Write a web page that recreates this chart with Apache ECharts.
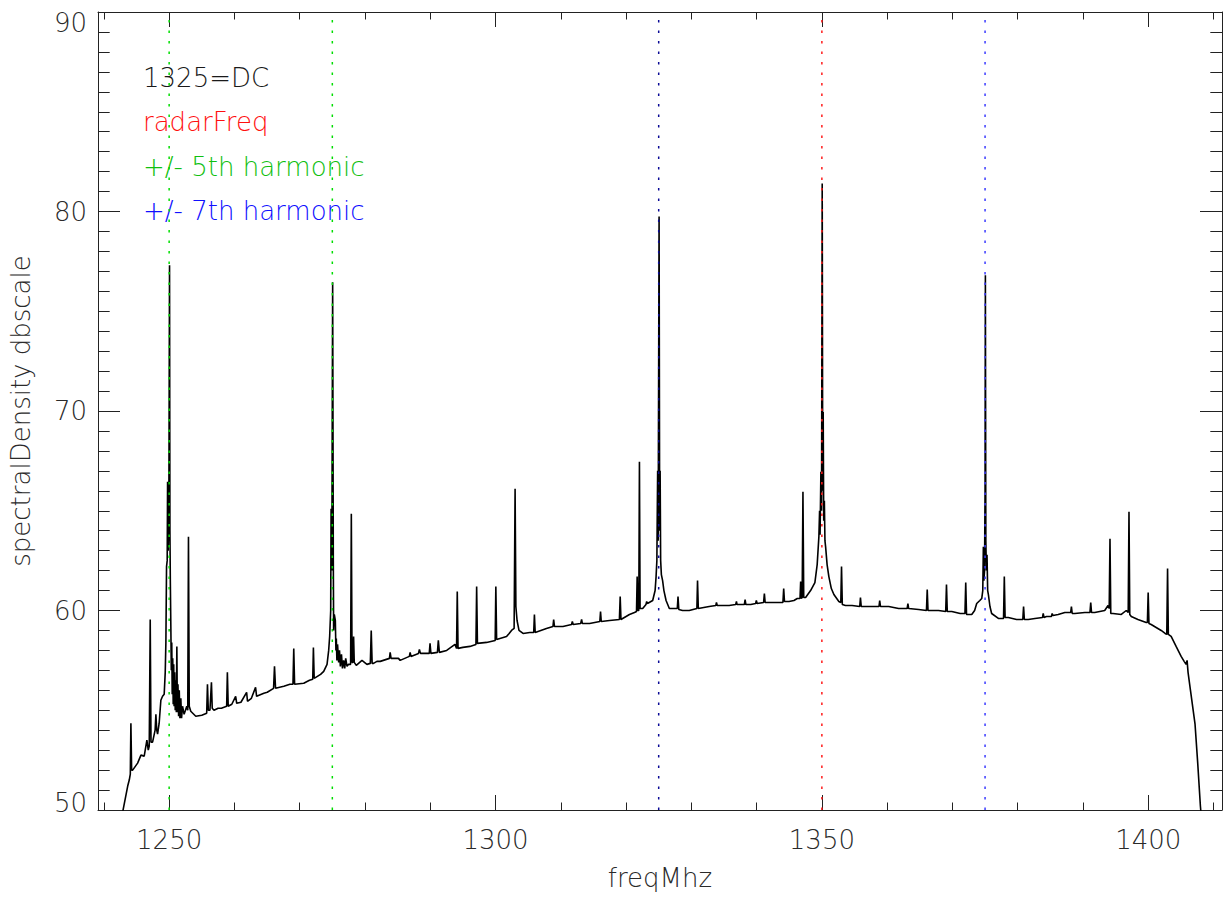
<!DOCTYPE html>
<html><head><meta charset="utf-8">
<script src="https://cdn.jsdelivr.net/npm/echarts@6/dist/echarts.min.js"></script>
<style>html,body{margin:0;padding:0;background:#fff}#c{width:1225px;height:897px}</style>
</head><body><div id="c"></div>
<script>
const xRange = [1239.1, 1411.3];
const yRange = [50, 90];
const xMajorTicks = [1250, 1300, 1350, 1400];
const xMinorTicks = [1240, 1250, 1260, 1270, 1280, 1290, 1300, 1310, 1320, 1330, 1340, 1350, 1360, 1370, 1380, 1390, 1400, 1410];
const yMajorTicks = [50, 60, 70, 80, 90];
const yMinorTicks = [50,51,52,53,54,55,56,57,58,59,60,61,62,63,64,65,66,67,68,69,70,71,72,73,74,75,76,77,78,79,80,81,82,83,84,85,86,87,88,89,90];
const xTitle = 'freqMhz';
const yTitle = 'spectralDensity dbscale';
const markerFreqs = [1250, 1275, 1325, 1350, 1375];
const markerColors = ['#00dd00', '#00dd00', '#0a0a96', '#ff1a1a', '#3a3aff'];
const legendLabels = ['1325=DC', 'radarFreq', '+/- 5th harmonic', '+/- 7th harmonic'];
const legendColors = ['#1a1a1a', '#ff1010', '#10c010', '#1010ff'];

// [freq MHz, spectral density dB]
const spectrum = [
[1242.5,49.6],[1242.88,49.9],[1243.65,51.2],[1243.89,51.5],[1244.05,51.8],[1244.14,54.35],[1244.25,52.0],[1244.41,52.0],
[1245.17,52.35],[1245.68,52.75],[1246.18,52.7],[1246.59,53.5],[1246.8,53.0],[1246.95,53.2],[1247.10,59.55],[1247.22,53.4],
[1247.46,53.4],[1247.85,54.0],[1247.97,54.8],[1248.1,54.0],[1248.23,53.8],[1248.47,54.35],[1248.73,55.5],[1248.99,55.7],
[1249.24,55.8],[1249.40,56.9],[1249.50,58.4],[1249.60,62.2],[1249.70,62.5],[1249.76,66.45],[1249.85,63.0],[1249.95,64.5],
[1250.06,77.3],[1250.12,64.0],[1250.18,61.5],[1250.26,59.2],[1250.33,57.0],[1250.40,58.4],[1250.47,55.8],[1250.55,57.6],
[1250.62,55.3],[1250.70,57.3],[1250.76,55.2],[1250.85,56.9],[1250.93,55.0],[1251.02,56.5],[1251.10,54.9],[1251.18,58.2],
[1251.26,54.9],[1251.35,56.3],[1251.45,54.7],[1251.55,56.0],[1251.65,54.6],[1251.79,55.6],[1251.90,54.6],[1252.05,55.2],
[1252.29,54.8],[1252.50,55.0],[1252.70,55.2],[1252.85,55.0],[1252.96,63.7],[1253.08,55.2],[1253.31,54.95],[1254.08,54.7],
[1255.0,54.75],[1255.75,54.85],[1255.87,56.3],[1256.0,55.0],[1256.25,55.0],[1256.48,56.4],[1256.6,55.1],[1256.87,55.0],
[1257.5,55.1],[1258.0,55.1],[1258.81,55.2],[1258.92,56.9],[1259.05,55.2],[1259.6,55.3],[1260.19,55.7],[1260.35,55.35],
[1261.0,55.4],[1261.87,55.9],[1262.0,55.45],[1262.6,55.6],[1263.24,56.15],[1263.4,55.7],[1264.51,55.85],[1265.03,55.9],
[1266.0,56.1],[1266.14,57.2],[1266.3,56.1],[1267.57,56.2],[1268.5,56.3],[1268.97,56.3],[1269.09,58.1],[1269.22,56.3],
[1270.62,56.35],[1271.5,56.5],[1272.0,56.55],[1272.1,58.15],[1272.22,56.6],[1273.2,56.8],[1273.68,56.95],[1274.19,57.3],
[1274.44,58.0],[1274.59,58.7],[1274.75,60.0],[1274.81,65.1],[1274.92,62.0],[1275.05,76.45],[1275.15,62.5],[1275.2,59.0],
[1275.3,59.8],[1275.46,59.5],[1275.55,58.0],[1275.61,58.6],[1275.7,57.5],[1275.8,58.3],[1275.97,57.4],[1276.1,58.0],
[1276.23,57.2],[1276.4,57.8],[1276.55,57.1],[1276.73,57.5],[1276.9,57.1],[1277.05,57.6],[1277.25,57.2],[1277.49,57.3],
[1277.8,57.3],[1277.91,64.85],[1278.02,57.4],[1278.15,57.4],[1278.26,58.7],[1278.36,57.4],[1278.67,57.25],[1279.54,57.5],
[1280.30,57.3],[1280.82,57.35],[1280.96,59.0],[1281.1,57.35],[1281.31,57.35],[1281.83,57.45],[1282.34,57.45],[1283.75,57.6],
[1283.86,57.9],[1284.0,57.6],[1285.13,57.6],[1285.39,57.5],[1286.8,57.7],[1286.92,57.9],[1287.05,57.7],[1288.2,57.85],
[1288.34,58.05],[1288.5,57.85],[1289.85,57.85],[1289.97,58.35],[1290.1,57.85],[1291.1,57.9],[1291.24,58.5],[1291.4,57.9],
[1292.52,58.0],[1293.79,58.3],[1294.03,58.1],[1294.14,60.95],[1294.26,58.1],[1295.0,58.15],[1296.08,58.2],[1297.0,58.3],
[1297.11,61.2],[1297.23,58.35],[1298.63,58.4],[1299.95,58.5],[1300.05,61.2],[1300.17,58.55],[1301.69,58.7],[1302.09,58.85],
[1302.45,59.0],[1302.85,59.1],[1303.0,66.1],[1303.12,60.2],[1303.3,59.5],[1303.6,59.0],[1304.22,58.85],[1305.25,58.9],
[1305.85,58.9],[1305.96,59.8],[1306.08,58.9],[1307.80,59.1],[1308.8,59.2],[1308.91,59.55],[1309.03,59.2],[1310.33,59.2],
[1311.65,59.3],[1311.77,59.45],[1311.9,59.3],[1313.05,59.35],[1313.19,59.55],[1313.3,59.35],[1314.41,59.35],[1315.98,59.45],
[1316.09,59.95],[1316.2,59.45],[1317.47,59.5],[1318.98,59.55],[1319.10,60.7],[1319.22,59.55],[1320.52,59.8],[1321.29,59.9],
[1321.6,59.95],[1321.70,61.7],[1321.8,60.0],[1321.95,60.0],[1322.05,67.45],[1322.15,60.1],[1322.55,60.1],[1323.05,60.3],
[1323.16,60.45],[1323.28,60.35],[1324.08,60.5],[1324.45,61.0],[1324.60,61.7],[1324.72,62.5],[1324.84,67.0],[1324.92,63.5],
[1325.06,79.75],[1325.15,64.0],[1325.22,67.0],[1325.3,62.5],[1325.41,61.8],[1325.6,61.5],[1325.8,61.0],[1326.13,60.5],
[1326.63,60.1],[1327.0,60.1],[1327.85,60.1],[1327.96,60.7],[1328.08,60.05],[1328.66,60.0],[1329.68,60.0],[1330.85,60.1],
[1330.95,61.5],[1331.07,60.1],[1332.74,60.2],[1333.75,60.25],[1333.85,60.4],[1333.97,60.25],[1335.79,60.25],[1336.8,60.3],
[1336.91,60.45],[1337.0,60.3],[1338.12,60.3],[1338.24,60.55],[1338.36,60.3],[1339.11,60.3],[1339.85,60.35],[1339.96,60.5],
[1340.08,60.35],[1341.07,60.4],[1341.19,60.85],[1341.31,60.4],[1342.41,60.4],[1343.43,60.4],[1344.03,60.4],[1344.15,61.1],
[1344.27,60.45],[1344.96,60.45],[1345.72,60.5],[1346.23,60.6],[1346.65,60.6],[1346.75,61.45],[1346.85,60.6],[1346.98,60.65],
[1347.10,65.95],[1347.22,60.65],[1347.51,60.65],[1348.27,61.0],[1348.93,61.4],[1349.28,62.3],[1349.54,63.7],[1349.65,65.0],
[1349.72,63.8],[1349.85,66.95],[1349.95,65.0],[1350.05,81.4],[1350.13,66.0],[1350.20,69.95],[1350.28,64.5],[1350.38,65.5],
[1350.47,63.5],[1350.57,63.2],[1350.8,62.3],[1351.07,61.7],[1351.45,61.1],[1351.84,60.8],[1352.60,60.45],[1352.9,60.4],
[1353.01,62.2],[1353.13,60.3],[1353.62,60.25],[1354.63,60.25],[1355.8,60.2],[1355.91,60.65],[1356.03,60.2],[1357.68,60.2],
[1358.75,60.2],[1358.86,60.5],[1358.98,60.2],[1360.24,60.2],[1361.76,60.1],[1363.06,60.1],[1363.18,60.35],[1363.3,60.1],
[1364.82,60.05],[1366.02,60.0],[1366.14,61.05],[1366.26,60.0],[1367.87,60.0],[1368.97,59.95],[1369.09,61.3],[1369.21,59.95],
[1369.90,59.95],[1371.19,59.85],[1371.92,59.85],[1372.04,61.4],[1372.16,59.8],[1372.96,59.8],[1373.4,60.0],[1373.72,60.35],
[1374.2,60.5],[1374.49,60.6],[1374.65,61.0],[1374.74,63.2],[1374.82,61.5],[1374.92,62.0],[1375.00,66.0],[1375.05,76.8],
[1375.12,63.5],[1375.2,62.0],[1375.30,62.8],[1375.40,61.0],[1375.51,60.8],[1375.75,60.2],[1376.01,59.85],[1377.04,59.6],
[1377.83,59.6],[1377.95,61.7],[1378.07,59.65],[1378.56,59.65],[1379.83,59.55],[1380.78,59.55],[1380.90,60.2],[1381.02,59.55],
[1381.62,59.55],[1382.64,59.6],[1383.8,59.65],[1383.91,59.85],[1384.03,59.65],[1384.41,59.7],[1385.17,59.7],[1385.28,59.85],
[1385.4,59.75],[1386.20,59.8],[1387.22,59.9],[1388.12,59.9],[1388.23,60.2],[1388.35,59.85],[1388.75,59.85],[1390.28,59.9],
[1391.07,59.9],[1391.19,60.4],[1391.31,59.9],[1391.80,59.9],[1393.33,60.0],[1393.84,60.25],[1394.02,60.1],[1394.14,63.6],
[1394.26,59.85],[1394.60,59.85],[1395.87,59.8],[1396.63,60.0],[1396.93,59.9],[1397.05,64.95],[1397.17,59.8],[1397.40,59.7],
[1398.42,59.55],[1399.69,59.4],[1399.87,59.4],[1399.99,60.9],[1400.11,59.35],[1400.45,59.3],[1401.98,59.0],[1402.59,58.85],
[1402.84,58.8],[1402.96,62.1],[1403.08,58.8],[1403.51,58.7],[1404.27,58.2],[1405.04,57.7],[1405.50,57.45],[1405.80,57.3],[1405.95,57.5],
[1406.1,56.9],[1406.47,56.0],[1407.17,54.3],[1407.58,52.35],[1407.99,50.2],[1408.2,49.4]
];

const FONT = 'DejaVu Sans';
const TXT = '#2a2a2a';
const AX = '#222222';

function xAxis(pos, ticks, len, withLine, withLabels) {
  const a = {
    type: 'value', gridIndex: 0, position: pos, min: xRange[0], max: xRange[1],
    splitLine: {show: false}, minorTick: {show: false},
    axisLine: {show: withLine, onZero: false, lineStyle: {color: AX, width: 1}},
    axisTick: {show: true, inside: true, length: len, customValues: ticks, lineStyle: {color: AX, width: 1}},
    axisLabel: {show: false}
  };
  if (withLabels) {
    a.axisLabel = {show: true, customValues: xMajorTicks, margin: 17, color: TXT, fontFamily: FONT, fontSize: 26, fontWeight: 200,
      formatter: v => String(v), showMinLabel: true, showMaxLabel: true};
    a.name = xTitle; a.nameLocation = 'middle'; a.nameGap = 55;
    a.nameTextStyle = {color: TXT, fontFamily: FONT, fontSize: 26, fontWeight: 200};
  }
  return a;
}
function yAxis(pos, ticks, len, withLine, withLabels) {
  const a = {
    type: 'value', gridIndex: 0, position: pos, min: yRange[0], max: yRange[1],
    splitLine: {show: false}, minorTick: {show: false},
    axisLine: {show: withLine, onZero: false, lineStyle: {color: AX, width: 1}},
    axisTick: {show: true, inside: true, length: len, customValues: ticks, lineStyle: {color: AX, width: 1}},
    axisLabel: {show: false}
  };
  if (withLabels) {
    a.axisLabel = {show: true, customValues: yMajorTicks, margin: 11, color: TXT, fontFamily: FONT, fontSize: 26, fontWeight: 200,
      formatter: v => v === yRange[1] ? '{t|' + v + '}' : (v === yRange[0] ? '{b|' + v + '}' : '{n|' + v + '}'),
      rich: {
        t: {padding: [22, 0, 0, 0], color: TXT, fontFamily: FONT, fontSize: 26, fontWeight: 200},
        b: {padding: [0, 0, 14, 0], color: TXT, fontFamily: FONT, fontSize: 26, fontWeight: 200},
        n: {color: TXT, fontFamily: FONT, fontSize: 26, fontWeight: 200}
      }};
    a.name = yTitle; a.nameLocation = 'middle'; a.nameGap = 64; a.nameRotate = 90;
    a.nameTextStyle = {color: TXT, fontFamily: FONT, fontSize: 26, fontWeight: 200};
  }
  return a;
}

const markerSeries = markerFreqs.map((f, i) => ({
  type: 'line', xAxisIndex: 0, yAxisIndex: 0, data: [[f, yRange[0]], [f, yRange[1]]],
  symbol: 'none', silent: true, z: 5, animation: false,
  lineStyle: {color: markerColors[i], width: 1.5, type: [2.5, 8]}
}));

const legendText = legendLabels.map((t, i) => ({
  type: 'text', x: 143, y: 78 + i * 44.3, silent: true,
  style: {text: t, fill: legendColors[i], fontFamily: FONT, fontSize: 26, fontWeight: 200, align: 'left', verticalAlign: 'middle'}
}));

const chart = echarts.init(document.getElementById('c'), null, {renderer: 'svg', width: 1225, height: 897});
chart.setOption({
  animation: false,
  backgroundColor: '#ffffff',
  grid: {left: 97, top: 12, width: 1125, height: 798, containLabel: false},
  xAxis: [
    xAxis('bottom', xMajorTicks, 15, true, true),
    xAxis('bottom', xMinorTicks, 7.5, false, false),
    xAxis('top', xMajorTicks, 15, true, false),
    xAxis('top', xMinorTicks, 7.5, false, false)
  ],
  yAxis: [
    yAxis('left', yMajorTicks, 22, true, true),
    yAxis('left', yMinorTicks, 11.7, false, false),
    yAxis('right', yMajorTicks, 22, true, false),
    yAxis('right', yMinorTicks, 11.7, false, false)
  ],
  graphic: legendText,
  series: [{
    type: 'line', xAxisIndex: 0, yAxisIndex: 0, data: spectrum, symbol: 'none', showSymbol: false,
    clip: true, z: 3, silent: true, lineStyle: {color: '#000000', width: 1.6}
  }].concat(markerSeries)
});
</script></body></html>
